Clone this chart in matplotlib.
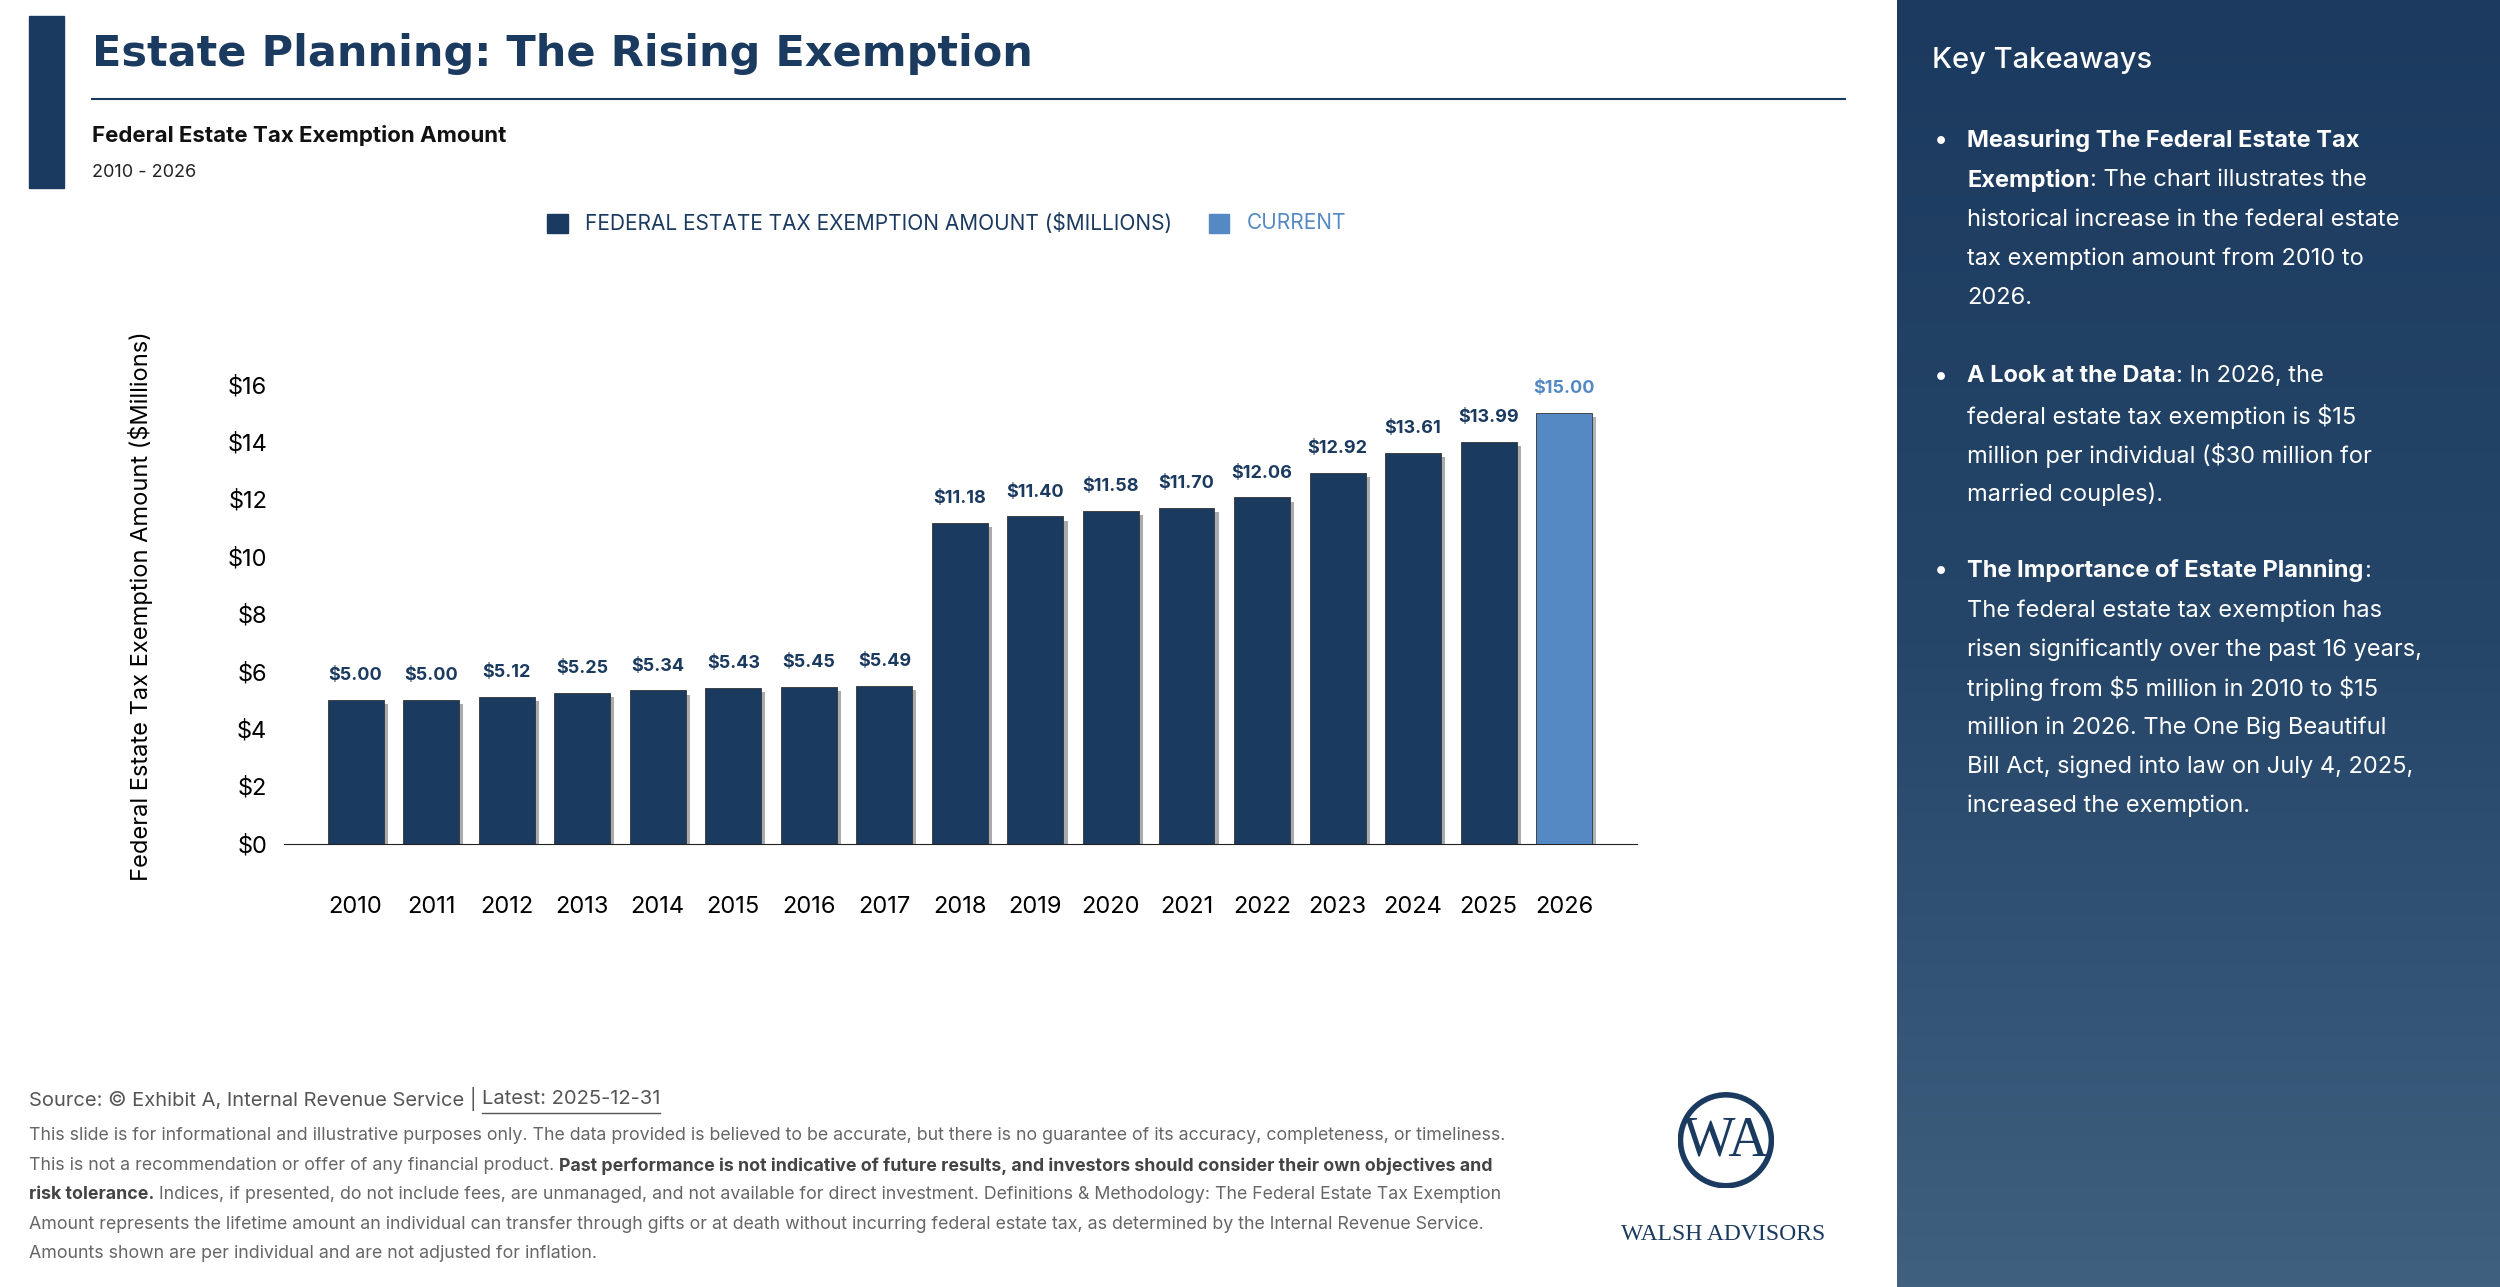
import matplotlib
matplotlib.use("Agg")
import matplotlib.pyplot as plt
import matplotlib.patheffects as pe
from matplotlib.patches import Rectangle, Circle
from matplotlib.colors import LinearSegmentedColormap
import numpy as np

years = ["2010", "2011", "2012", "2013", "2014", "2015", "2016", "2017", "2018",
         "2019", "2020", "2021", "2022", "2023", "2024", "2025", "2026"]
values = [5.00, 5.00, 5.12, 5.25, 5.34, 5.43, 5.45, 5.49, 11.18,
          11.40, 11.58, 11.70, 12.06, 12.92, 13.61, 13.99, 15.00]
yticks = [0, 2, 4, 6, 8, 10, 12, 14, 16]

NAVY = "#1b3a5f"
CUR = "#5589c4"
W, H = 1568, 807

plt.rcParams["font.family"] = ["Inter", "DejaVu Sans"]
plt.rcParams["text.parse_math"] = False
fig = plt.figure(figsize=(25, 12.87), dpi=100)
rend = fig.canvas.get_renderer()

def fx(x): return x / W
def fy(y): return 1 - y / H

def runs(x, y, parts, **kw):
    # draw text pieces one after another on a line
    cur = fx(x)
    for s, style in parts:
        t = fig.text(cur, fy(y), s, va="center", **style, **kw)
        bb = t.get_window_extent(rend)
        cur += bb.width / fig.bbox.width
    return cur

# right panel gradient
grad = fig.add_axes([fx(1190), 0, 1 - fx(1190), 1])
g = np.linspace(0, 1, 256).reshape(-1, 1)
cm = LinearSegmentedColormap.from_list("p", ["#1c3a5f", "#254669", "#40607f"])
grad.imshow(g, aspect="auto", cmap=cm, extent=[0, 1, 0, 1])
grad.axis("off")

fig.patches.append(Rectangle((fx(18), fy(118)), fx(22), fy(10) - fy(118),
                             transform=fig.transFigure, color=NAVY))
fig.text(fx(58), fy(34), "Estate Planning: The Rising Exemption", fontsize=31,
         fontweight="bold", color=NAVY, va="center", family=["DejaVu Sans"])
fig.add_artist(plt.Line2D([fx(58), fx(1157)], [fy(62), fy(62)], color=NAVY, lw=1.5))
fig.text(fx(58), fy(85), "Federal Estate Tax Exemption Amount", fontsize=16,
         fontweight="bold", color="#111111", va="center")
fig.text(fx(58), fy(108), "2010 - 2026", fontsize=13, color="#222222", va="center")

# legend
fig.patches.append(Rectangle((fx(343), fy(146)), fx(13), fy(134) - fy(146),
                             transform=fig.transFigure, color=NAVY))
fig.text(fx(367), fy(140), "FEDERAL ESTATE TAX EXEMPTION AMOUNT ($MILLIONS)",
         fontsize=15, color=NAVY, va="center")
fig.patches.append(Rectangle((fx(758), fy(146)), fx(13), fy(134) - fy(146),
                             transform=fig.transFigure, color=CUR))
fig.text(fx(782), fy(140), "CURRENT", fontsize=15, color=CUR, va="center")

# chart
ax = fig.add_axes([fx(178), fy(529), fx(1027) - fx(178), fy(232) - fy(529)])
x = np.arange(len(years))
colors = [NAVY] * (len(years) - 1) + [CUR]
bars = ax.bar(x, values, width=0.74, color=colors, edgecolor="#333333", linewidth=0.6)
for b in bars:
    b.set_path_effects([pe.SimplePatchShadow(offset=(3, -3), alpha=0.35), pe.Normal()])
for xi, v, c in zip(x, values, colors):
    ax.text(xi, v + 0.55, f"${v:.2f}", ha="center", va="bottom", fontsize=13,
            fontweight="bold", color=c)
ax.set_xlim(-0.95, 16.97)
ax.set_ylim(0, 16.5)
ax.set_yticks(yticks)
ax.set_yticklabels([f"${t}" for t in yticks], fontsize=17)
ax.set_xticks(x)
ax.set_xticklabels(years, fontsize=17)
ax.tick_params(length=0, pad=38, axis="x")
ax.tick_params(length=0, pad=12, axis="y")
for s in ["top", "right", "left"]:
    ax.spines[s].set_visible(False)
ax.spines["bottom"].set_color("#222222")
fig.text(fx(88), fy(380), "Federal Estate Tax Exemption Amount ($Millions)", fontsize=17,
         rotation=90, ha="center", va="center")

# footer
gc = "#666666"
norm = dict(color=gc)
bold = dict(color="#444444", fontweight="bold")
end = runs(18, 689, [("Source: © Exhibit A, Internal Revenue Service | ", dict(color="#555555"))], fontsize=14.5)
e2 = runs(end * W, 689, [("Latest: 2025-12-31", dict(color="#555555"))], fontsize=14.5)
fig.add_artist(plt.Line2D([end, e2], [fy(698), fy(698)], color="#555555", lw=1))
fs = 12.8
runs(18, 712, [("This slide is for informational and illustrative purposes only. The data provided is believed to be accurate, but there is no guarantee of its accuracy, completeness, or timeliness.", norm)], fontsize=fs)
runs(18, 731, [("This is not a recommendation or offer of any financial product. ", norm),
               ("Past performance is not indicative of future results, and investors should consider their own objectives and", bold)], fontsize=fs)
runs(18, 749, [("risk tolerance.", bold),
               (" Indices, if presented, do not include fees, are unmanaged, and not available for direct investment. Definitions & Methodology: The Federal Estate Tax Exemption", norm)], fontsize=fs)
runs(18, 768, [("Amount represents the lifetime amount an individual can transfer through gifts or at death without incurring federal estate tax, as determined by the Internal Revenue Service.", norm)], fontsize=fs)
runs(18, 786, [("Amounts shown are per individual and are not adjusted for inflation.", norm)], fontsize=fs)

# logo
lax = fig.add_axes([fx(1040), fy(745), fx(1125) - fx(1040), fy(685) - fy(745)])
lax.set_xlim(-1, 1); lax.set_ylim(-1, 1); lax.set_aspect("equal"); lax.axis("off")
lax.add_patch(Circle((0, 0), 0.95, fill=False, lw=4, color=NAVY))
lax.text(0, -0.02, "WA", fontsize=40, family=["Liberation Serif"], color=NAVY,
         ha="center", va="center")
fig.text(fx(1081), fy(774), "WALSH ADVISORS", fontsize=17, family=["Liberation Serif"],
         color=NAVY, ha="center", va="center")

# takeaways
fig.text(fx(1212), fy(38), "Key Takeaways", fontsize=21, color="white", va="center",
         fontweight="medium")
px = 1234
lh = 24.5
wb = dict(color="white", fontweight="bold")
wn = dict(color="white")
def bullet(y):
    fig.text(fx(1213), fy(y), "•", fontsize=18, color="white", va="center")
tk = 17
bullet(88)
runs(px, 88, [("Measuring The Federal Estate Tax", wb)], fontsize=tk)
runs(px, 113, [("Exemption", wb), (": The chart illustrates the", wn)], fontsize=tk)
for i, s in enumerate(["historical increase in the federal estate",
                       "tax exemption amount from 2010 to", "2026."]):
    runs(px, 138 + i * lh, [(s, wn)], fontsize=tk)
bullet(236)
runs(px, 236, [("A Look at the Data", wb), (": In 2026, the", wn)], fontsize=tk)
for i, s in enumerate(["federal estate tax exemption is $15",
                       "million per individual ($30 million for", "married couples)."]):
    runs(px, 261 + i * lh, [(s, wn)], fontsize=tk)
bullet(358)
runs(px, 358, [("The Importance of Estate Planning", wb), (":", wn)], fontsize=tk)
for i, s in enumerate(["The federal estate tax exemption has",
                       "risen significantly over the past 16 years,",
                       "tripling from $5 million in 2010 to $15",
                       "million in 2026. The One Big Beautiful",
                       "Bill Act, signed into law on July 4, 2025,",
                       "increased the exemption."]):
    runs(px, 383 + i * lh, [(s, wn)], fontsize=tk)

fig.savefig("out.png", dpi=100)
